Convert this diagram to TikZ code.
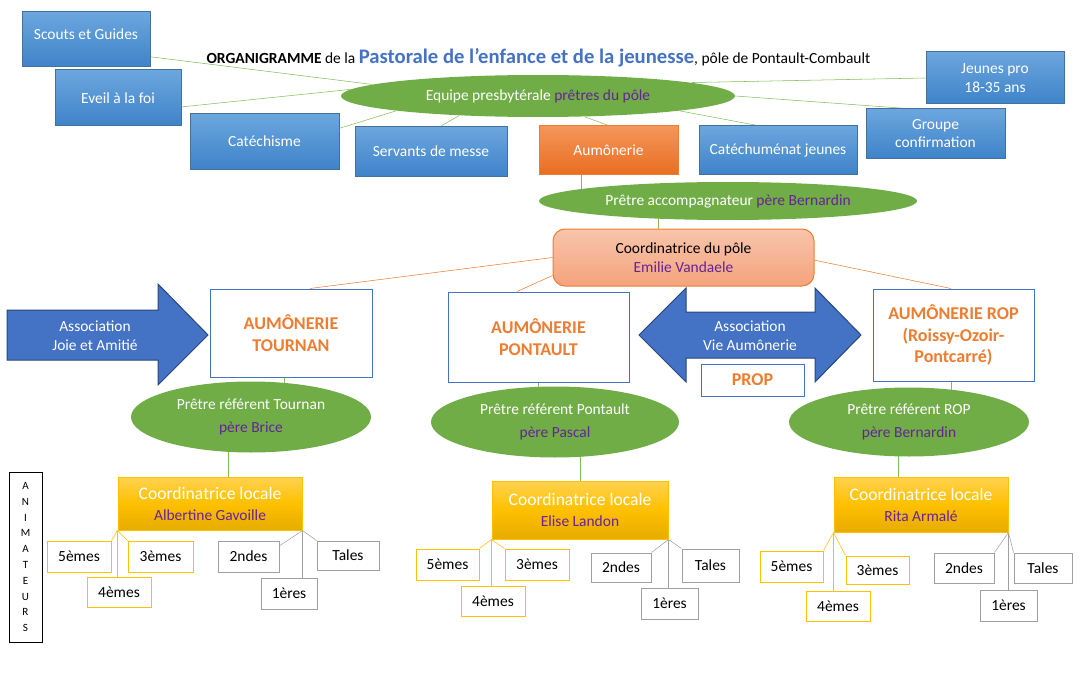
\documentclass[tikz,border=0pt]{standalone}
\usepackage{fontspec}
\setmainfont{Carlito}
\usetikzlibrary{shapes, positioning, backgrounds}
\definecolor{bluetop}{RGB}{108,166,222}
\definecolor{bluebot}{RGB}{62,131,201}
\definecolor{blueline}{RGB}{65,113,156}
\definecolor{orgtop}{RGB}{244,150,92}
\definecolor{orgbot}{RGB}{233,110,33}
\definecolor{orgline}{RGB}{237,125,49}
\definecolor{salmtop}{RGB}{248,197,172}
\definecolor{salmbot}{RGB}{244,163,124}
\definecolor{leaf}{RGB}{112,173,71}
\definecolor{leafline}{RGB}{130,190,90}
\definecolor{prune}{RGB}{102,35,150}
\definecolor{titleblue}{RGB}{68,114,196}
\definecolor{arrowline}{RGB}{40,70,125}
\definecolor{goldtop}{RGB}{255,210,80}
\definecolor{goldmid}{RGB}{255,192,0}
\definecolor{goldbot}{RGB}{230,172,0}
\definecolor{goldline}{RGB}{255,192,0}
\definecolor{greyline}{RGB}{160,160,160}
\newcommand\base{\fontsize{11.6}{13.8}\selectfont}
\newcommand\pn[1]{{\color{prune}#1}}
\tikzstyle{Blue}=[rectangle, draw=blueline, top color=bluetop, bottom color=bluebot, text=white, font=\base, align=center, inner sep=0pt]
\tikzstyle{Orange}=[rectangle, draw=orgline, top color=orgtop, bottom color=orgbot, text=white, font=\base, inner sep=0pt]
\tikzstyle{Leaf}=[ellipse, fill=leaf, text=white, font=\base, align=center, inner sep=0pt]
\tikzstyle{Pole}=[rectangle, rounded corners=9pt, draw=orgline, top color=salmtop, bottom color=salmbot, font=\fontsize{11.6}{14.25}\selectfont, align=center, inner sep=0pt]
\tikzstyle{Aum}=[rectangle, draw=titleblue, fill=white, text=orgline, font=\fontsize{13.5}{16}\selectfont\bfseries, align=center, inner sep=0pt]
\tikzstyle{Gold}=[rectangle, draw=goldline, top color=goldtop, bottom color=goldbot, middle color=goldmid, text=white, font=\fontsize{13.2}{15.75}\selectfont, align=center, inner sep=0pt]
\tikzstyle{Young}=[rectangle, draw=goldline, fill=white, font=\base, inner sep=0pt]
\tikzstyle{Old}=[rectangle, draw=greyline, fill=white, font=\base, inner sep=0pt]
\tikzstyle{Arrow}=[fill=titleblue, draw=arrowline]
\tikzset{sz/.style 2 args={minimum width=#1*0.75pt, minimum height=#2*0.75pt}}

\begin{document}
\begin{tikzpicture}[x=0.75pt, y=-0.75pt, line width=0.75pt]
			\useasboundingbox (0,0) rectangle (1079,674);
			\node[anchor=base west, inner sep=0pt, font=\base] (title) at (206,64) {\textbf{ORGANIGRAMME} de la {\color{titleblue}\fontsize{15.5}{18}\selectfont\bfseries Pastorale de l’enfance et de la jeunesse}, pôle de Pontault-Combault};

			\node[Blue, sz={128}{55}, text depth=8pt] (scouts) at (86,39.5) {Scouts et Guides};
			\node[Blue, sz={126}{56}] (eveil) at (118,98) {Eveil à la foi};
			\node[Blue, sz={149}{55}] (cate) at (264.5,141.5) {Catéchisme};
			\node[Blue, sz={152}{49}] (serv) at (431,151.5) {Servants de messe};
			\node[Orange, sz={139}{48}] (aum) at (608.5,150) {Aumônerie};
			\node[Blue, sz={158}{48}] (catech) at (778,150) {Catéchuménat jeunes};
			\node[Blue, sz={139}{49}, font=\fontsize{11.6}{14}\selectfont] (confirm) at (935.5,133.5) {Groupe\\confirmation};
			\node[Blue, sz={138}{52}, font=\fontsize{11.6}{14}\selectfont] (jpro) at (995,78) {Jeunes pro\\18-35 ans};

			\node[Leaf, sz={394}{42}] (equipe) at (538,96) {Equipe presbytérale \pn{prêtres du pôle}};
			\node[Leaf, sz={378}{38}] (accomp) at (728,201) {Prêtre accompagnateur \pn{père Bernardin}};
			\node[Pole, sz={261}{57}] (pole) at (683.5,257.5) {Coordinatrice du pôle\\\pn{Emilie Vandaele}};

			\node[Aum, sz={162}{88}] (tournan) at (291,333) {AUMÔNERIE\\TOURNAN};
			\node[Aum, sz={181}{90}] (pontault) at (538.5,337) {AUMÔNERIE\\PONTAULT};
			\node[Aum, sz={161}{92}] (rop) at (953.5,335) {AUMÔNERIE ROP\\(Roissy-Ozoir-\\Pontcarré)};

			\draw[Arrow] (7,310) -- (158,310) -- (158,284) -- (208,335) -- (158,385) -- (158,360) -- (7,360) -- cycle;
			\node[text=white, font=\fontsize{11.6}{14.25}\selectfont, align=center] (joie) at (95,336) {Association\\Joie et Amitié};
			\draw[Arrow] (639,335) -- (686,288) -- (686,312) -- (815,312) -- (815,288) -- (861,335) -- (815,382) -- (815,358) -- (686,358) -- (686,382) -- cycle;
			\node[text=white, font=\fontsize{11.6}{14.25}\selectfont, align=center] (vie) at (750,336) {Association\\Vie Aumônerie};
			\node[Aum, sz={103}{32}] (prop) at (752.5,380) {PROP};

			\node[Leaf, sz={240}{71}, font=\fontsize{11.6}{17.25}\selectfont] (ptournan) at (251,417) {Prêtre référent Tournan\\\pn{père Brice}};
			\node[Leaf, sz={248}{71}, font=\fontsize{11.6}{17.25}\selectfont] (ppontault) at (555,422) {Prêtre référent Pontault\\\pn{père Pascal}};
			\node[Leaf, sz={240}{69}, font=\fontsize{11.6}{17.25}\selectfont] (prop2) at (909,422) {Prêtre référent ROP\\\pn{père Bernardin}};

			\node[Gold, sz={184}{53}] (ltournan) at (210,503.5) {Coordinatrice locale\\{\base\pn{Albertine Gavoille}}};
			\node[Gold, sz={176}{58}] (lpontault) at (580,510) {Coordinatrice locale\\{\base\pn{Elise Landon}}};
			\node[Gold, sz={174}{55}] (lrop) at (921,504.5) {Coordinatrice locale\\{\base\pn{Rita Armalé}}};

			\node[Young, sz={64}{31}] (t5) at (79,556.5) {5èmes};
			\node[Young, sz={65}{31}] (t3) at (160.5,556.5) {3èmes};
			\node[Young, sz={64}{30}] (t4) at (119,592) {4èmes};
			\node[Old, sz={61}{31}] (t2) at (248.5,556.5) {2ndes};
			\node[Old, sz={62}{29}] (tT) at (348,555.5) {Tales};
			\node[Old, sz={56}{31}] (t1) at (289,593.5) {1ères};

			\node[Young, sz={63}{31}] (p5) at (447.5,564.5) {5èmes};
			\node[Young, sz={64}{31}] (p3) at (537,564.5) {3èmes};
			\node[Young, sz={64}{30}] (p4) at (493,601) {4èmes};
			\node[Old, sz={60}{29}] (p2) at (621,567.5) {2ndes};
			\node[Old, sz={57}{33}] (pT) at (710.5,565.5) {Tales};
			\node[Old, sz={57}{31}] (p1) at (669.5,603.5) {1ères};

			\node[Young, sz={63}{31}] (r5) at (791.5,566.5) {5èmes};
			\node[Young, sz={63}{28}] (r3) at (877.5,570) {3èmes};
			\node[Young, sz={64}{30}] (r4) at (838,606) {4èmes};
			\node[Old, sz={60}{30}] (r2) at (964,568) {2ndes};
			\node[Old, sz={58}{30}] (rT) at (1043,568) {Tales};
			\node[Old, sz={57}{31}] (r1) at (1008.5,605.5) {1ères};

			\node[draw, sz={33}{170}, font=\fontsize{8.3}{11.85}\selectfont, align=center, inner sep=0pt] (anim) at (25.5,557) {A\\N\\I\\M\\A\\T\\E\\U\\R\\S};

			\coordinate (a1) at ([xshift=-20.6pt]aum.south);
			\coordinate (a2) at ([xshift=-19.1pt]pole.north);
			\coordinate (a3) at ([xshift=-5.25pt]tournan.south);
			\coordinate (a4) at ([xshift=13.5pt]ltournan.north);
			\coordinate (a5) at ([xshift=-1.9pt]rop.south);
			\coordinate (a6) at ([xshift=-17.25pt]lrop.north);

			\begin{scope}[on background layer]
			\draw[leafline] (scouts.-15) -- (equipe.176);
			\draw[leafline] (eveil.-8) -- (equipe.178);
			\draw[leafline] (cate.10) -- (equipe.186);
			\draw[leafline] (serv.70) -- (equipe.194);
			\draw[leafline] (aum.north) -- (equipe.336);
			\draw[leafline] (catech.130) -- (equipe.354);
			\draw[leafline] (confirm.139) -- (equipe.east);
			\draw[leafline] (jpro.west) -- (equipe.5);
			\draw[leafline] (a1) -- (a1 |- accomp.center);
			\draw[leafline] (a2) -- (a2 |- accomp.center);
			\draw[leafline] (a3) -- (a3 |- ptournan.center);
			\draw[leafline] (a4) -- (a4 |- ptournan.center);
			\draw[leafline] (pontault.south) -- (pontault.south |- ppontault.center);
			\draw[leafline] (lpontault.north) -- (lpontault.north |- ppontault.center);
			\draw[leafline] (a5) -- (a5 |- prop2.center);
			\draw[leafline] (a6) -- (a6 |- prop2.center);

			\draw[orgline] (pole.west) -- ([xshift=14.25pt]tournan.north);
			\draw[orgline] ([yshift=-13.5pt]pole.west) -- ([xshift=-16.1pt]pontault.north);
			\draw[orgline] ([yshift=-2pt]pole.east) -- ([xshift=-1.9pt]rop.north);

			\draw[goldline] (ltournan.south west) -- (t5.north east);
			\draw[goldline] (ltournan.south west) -- (t3.north west);
			\draw[goldline] (ltournan.south west) -- (ltournan.south west |- t4.north);
			\draw[greyline] (ltournan.south east) -- (t2.19);
			\draw[greyline] (ltournan.south east) -- (tT.north west);
			\draw[greyline] (ltournan.south east) -- (ltournan.south east |- t1.north);

			\draw[goldline] (lpontault.south west) -- (p5.north east);
			\draw[goldline] (lpontault.south west) -- (p3.north west);
			\draw[goldline] (lpontault.south west) -- (lpontault.south west |- p4.north);
			\draw[greyline] (lpontault.south east) -- (p2.north east);
			\draw[greyline] (lpontault.south east) -- (pT.north west);
			\draw[greyline] (lpontault.south east) -- (lpontault.south east |- p1.north);

			\draw[goldline] (lrop.south west) -- (r5.north east);
			\draw[goldline] (lrop.south west) -- (r3.north west);
			\draw[goldline] (lrop.south west) -- (lrop.south west |- r4.north);
			\draw[greyline] (lrop.south east) -- (r2.north east);
			\draw[greyline] (lrop.south east) -- (rT.north west);
			\draw[greyline] (lrop.south east) -- (lrop.south east |- r1.north);
			\end{scope}
		\end{tikzpicture}
\end{document}
